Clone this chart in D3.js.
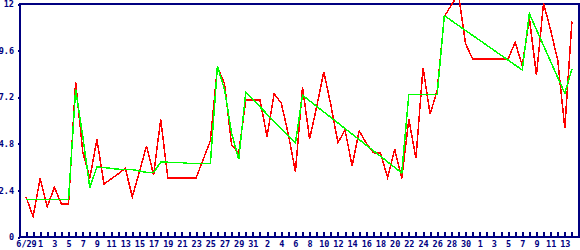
<!DOCTYPE html>
<html>
<head>
<meta charset="utf-8">
<script src="https://cdn.jsdelivr.net/npm/d3@7"></script>
<style>
body { margin: 0; background: #fff; }
</style>
</head>
<body>
<script>
// days shown on the chart
const dates = ["6/29", "6/30",
    "7/1", "7/2", "7/3", "7/4", "7/5", "7/6", "7/7", "7/8", "7/9", "7/10",
    "7/11", "7/12", "7/13", "7/14", "7/15", "7/16", "7/17", "7/18", "7/19", "7/20",
    "7/21", "7/22", "7/23", "7/24", "7/25", "7/26", "7/27", "7/28", "7/29", "7/30", "7/31",
    "8/1", "8/2", "8/3", "8/4", "8/5", "8/6", "8/7", "8/8", "8/9", "8/10",
    "8/11", "8/12", "8/13", "8/14", "8/15", "8/16", "8/17", "8/18", "8/19", "8/20",
    "8/21", "8/22", "8/23", "8/24", "8/25", "8/26", "8/27", "8/28", "8/29", "8/30", "8/31",
    "9/1", "9/2", "9/3", "9/4", "9/5", "9/6", "9/7", "9/8", "9/9", "9/10",
    "9/11", "9/12", "9/13", "9/14"];

// red series, one value a day
const redVals = [2.07, 1.05,
    3.02, 1.56, 2.56, 1.7, 1.7, 8.0, 4.4, 3.02, 5.03, 2.73,
    2.99, 3.25, 3.54, 2.07, 3.35, 4.7, 3.19, 6.06, 3.05, 3.05,
    3.05, 3.05, 3.05, 4.0, 4.95, 8.77, 7.9, 4.75, 4.31, 7.06, 7.06,
    7.06, 5.17, 7.37, 6.9, 5.3, 3.36, 7.74, 5.05, 6.71, 8.51,
    6.8, 4.86, 5.51, 3.66, 5.47, 4.83, 4.34, 4.33, 3.07, 4.52,
    3.02, 6.06, 4.05, 8.72, 6.32, 7.55, 11.35, 11.95, 12.5, 9.95, 9.17,
    9.17, 9.17, 9.17, 9.17, 9.17, 10.03, 8.82, 11.26, 8.34, 12.03,
    10.66, 9.1, 5.6, 11.1];

// green series, null where the day has no point
const greenVals = [1.94, 1.94,
    1.94, 1.94, 1.94, 1.94, 1.94, 7.6, 5.2, 2.55, 3.6, 3.58,
    3.53, 3.49, 3.48, 3.47, 3.4, 3.33, 3.33, 3.85, 3.85, 3.84,
    3.83, 3.78, 3.78, 3.78, 3.78, 8.8, 7.6, 5.35, 4.0, 7.45, null,
    null, null, null, null, null, 4.83, 7.3, null, null, null,
    null, null, null, null, null, null, null, null, null, null,
    3.3, 7.35, 7.35, 7.35, 7.35, 7.35, 11.4, null, null, null, null,
    null, null, null, null, null, null, 8.6, 11.5, null, null,
    null, null, 7.4, 8.65];

const yTicks = [0, 2.4, 4.8, 7.2, 9.6, 12];
const xTickLabels = ["6/29", "1", "3", "5", "7", "9", "11", "13", "15", "17", "19",
    "21", "23", "25", "27", "29", "31", "2", "4", "6", "8", "10", "12", "14", "16",
    "18", "20", "22", "24", "26", "28", "30", "1", "3", "5", "7", "9", "11", "13"];

const navy = "#000080";
const font = "'DejaVu Sans Mono', monospace";

let parseDay = (s) => {
    let p = s.split("/");
    return new Date(2000, +p[0] - 1, +p[1]);
};

let svg = d3.select("body")
            .append("svg")
            .attr("width", 580)
            .attr("height", 250);

let x = d3.scaleTime()
          .domain([parseDay("6/29"), parseDay("9/15")])
          .range([26, 579]);

let y = d3.scaleLinear()
          .domain([0, 12])
          .range([237, 4]);

let plotL = 20, plotR = 579, plotT = 4, plotB = 237;

// frame
svg.append("rect")
   .attr("x", plotL)
   .attr("y", plotT)
   .attr("width", plotR - plotL)
   .attr("height", plotB - plotT)
   .attr("fill", "none")
   .attr("stroke", navy)
   .attr("stroke-width", 2)
   .attr("shape-rendering", "crispEdges");

// x axis: a tick every day, a label every other day
let dayTicks = d3.timeDay.range(parseDay("6/29"), d3.timeDay.offset(parseDay("9/15"), 1));

let xAxis = svg.append("g")
   .attr("transform", `translate(0,${plotB})`)
   .call(d3.axisBottom(x)
           .tickValues(dayTicks)
           .tickSizeInner(-5)
           .tickSizeOuter(0)
           .tickPadding(4)
           .tickFormat((d, i) => i % 2 ? "" : (xTickLabels[i / 2] || "")));

let yAxis = svg.append("g")
   .attr("transform", `translate(${plotL},0)`)
   .call(d3.axisLeft(y)
           .tickValues(yTicks)
           .tickSize(2)
           .tickPadding(4)
           .tickFormat(d => d));

[xAxis, yAxis].forEach(g => {
    g.select(".domain").remove();
    g.selectAll("line")
     .attr("stroke", navy)
     .attr("stroke-width", 2)
     .attr("shape-rendering", "crispEdges");
    g.selectAll("text")
     .attr("fill", navy)
     .attr("font-family", font)
     .attr("font-weight", "bold")
     .attr("font-size", 8.5);
});

let redData = dates.map((d, i) => ({date: parseDay(d), v: redVals[i]}));
let greenData = dates.map((d, i) => ({date: parseDay(d), v: greenVals[i]}))
                     .filter(d => d.v !== null);

let line = d3.line()
             .x(d => x(d.date))
             .y(d => y(d.v));

// old-style aliased strokes
svg.append("path")
   .datum(redData)
   .attr("d", line)
   .attr("fill", "none")
   .attr("stroke", "#ff0000")
   .attr("stroke-width", 1.5)
   .attr("shape-rendering", "crispEdges");

svg.append("path")
   .datum(greenData)
   .attr("d", line)
   .attr("fill", "none")
   .attr("stroke", "#00ff00")
   .attr("stroke-width", 1.5)
   .attr("shape-rendering", "crispEdges");
</script>
</body>
</html>
